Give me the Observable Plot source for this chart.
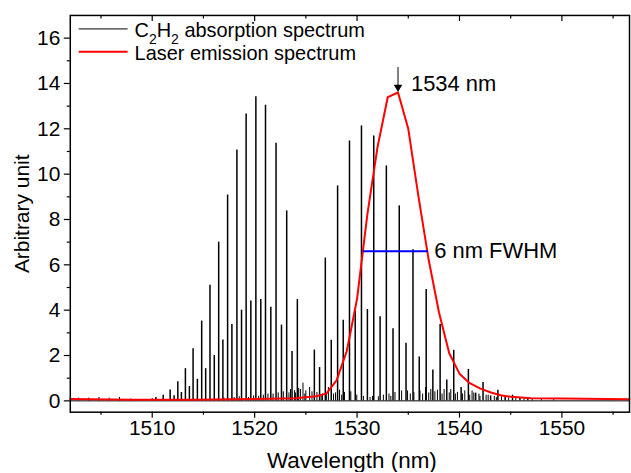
<!DOCTYPE html>
<html>
<head>
<meta charset="utf-8">
<script src="https://cdn.jsdelivr.net/npm/d3@7"></script>
<script src="https://cdn.jsdelivr.net/npm/@observablehq/plot@0.6"></script>
<style>
  html, body { margin: 0; padding: 0; background: #fff; overflow: hidden; }
  svg { display: block; }
</style>
</head>
<body>
<div id="chart"></div>
<script>
// ---- Data ----
const xDomain = [1502, 1556.6];
const yDomain = [-0.5, 17];

// Main C2H2 absorption lines (wavelength nm, intensity)
const lineWavelength = [
  1510.36, 1511.07, 1511.75, 1512.14, 1512.5, 1512.85, 1513.24, 1513.63, 1513.99, 1514.41,
  1514.83, 1515.22, 1515.64, 1516.06, 1516.49, 1516.9, 1517.36, 1517.78, 1518.27, 1518.72,
  1519.17, 1519.63, 1520.12, 1520.6, 1521.06, 1521.58, 1522.09, 1522.62, 1523.13, 1523.65,
  1524.17,
  1525.83, 1526.34, 1526.9, 1527.48, 1528.1, 1528.65, 1529.26, 1529.82, 1530.43, 1531.01,
  1531.63, 1532.25, 1532.86, 1533.51, 1534.12, 1534.78, 1535.46, 1536.07, 1536.75, 1537.4,
  1538.11, 1538.76, 1539.44, 1540.16, 1540.87, 1541.58, 1542.3, 1543.04, 1543.75, 1544.46,
  1545.18, 1545.9, 1546.67
];
const lineIntensity = [
  0.15, 0.25, 0.48, 0.22, 0.84, 0.37, 1.42, 0.63, 2.30, 0.95,
  3.52, 1.42, 5.10, 2.00, 7.00, 2.68, 9.08, 3.37, 11.06, 4.00,
  12.65, 4.40, 13.41, 4.47, 13.04, 4.13, 11.36, 3.34, 8.38, 2.18,
  4.47,
  2.24, 1.47, 6.30, 2.67, 9.48, 3.56, 11.46, 3.96, 12.12, 4.03,
  11.68, 3.71, 10.36, 3.18, 8.60, 2.54, 6.67, 1.93, 4.91, 1.36,
  3.37, 0.92, 2.23, 0.59, 1.39, 0.34, 0.81, 0.22, 0.47, 0.15,
  0.25, 0.10, 0.15
];

// Weak (hot band) lines and noise
const weakWavelength = [
  1502.8, 1503.8, 1504.8, 1505.8, 1506.8, 1507.9, 1509.0, 1510.0,
  1517.0, 1518.0, 1518.5, 1519.4, 1519.9, 1520.4, 1520.85, 1521.3, 1521.8, 1522.3, 1522.8, 1523.35, 1523.5, 1523.9, 1524.3,
  1524.47, 1524.72, 1525.0, 1525.37, 1526.08, 1526.63, 1527.2, 1527.7, 1528.29, 1528.77,
  1529.39, 1529.97, 1530.62, 1531.27, 1532.08, 1532.57, 1533.12, 1533.7, 1534.35, 1534.93,
  1535.55, 1536.14, 1536.68, 1537.2, 1537.85, 1538.5, 1539.15, 1539.8, 1540.52, 1541.23,
  1541.9, 1542.6, 1543.4, 1544.1, 1544.8, 1545.5, 1546.3, 1547.1, 1548.0, 1549.2,
  1524.0, 1524.9, 1525.6, 1526.5, 1527.0, 1527.9, 1528.5, 1531.5, 1533.3, 1535.2, 1536.4,
  1537.0, 1537.6, 1538.3, 1539.0, 1539.6, 1540.3, 1541.0, 1541.4, 1542.0, 1542.8, 1543.6
];
const weakIntensity = [
  0.12, 0.12, 0.15, 0.12, 0.15, 0.08, 0.06, 0.10,
  0.12, 0.15, 0.18, 0.15, 0.22, 0.2, 0.25, 0.3, 0.3, 0.35, 0.4, 0.35, 0.5, 0.45, 0.55,
  0.50, 0.78, 0.44, 0.59, 0.37, 0.30, 0.59, 0.30, 0.47, 0.37,
  0.40, 0.25, 0.20, 0.15, 0.18, 0.25, 0.30, 0.37, 0.44, 0.44,
  0.37, 0.44, 0.59, 0.50, 0.47, 0.50, 0.50, 0.37, 0.44, 0.44,
  0.30, 0.25, 0.20, 0.18, 0.12, 0.10, 0.10, 0.08, 0.07, 0.06,
  0.35, 0.3, 0.4, 0.25, 0.3, 0.35, 0.25, 0.2, 0.2, 0.3, 0.3,
  0.35, 0.4, 0.3, 0.35, 0.3, 0.3, 0.25, 0.35, 0.2, 0.25, 0.15
];

// Laser emission spectrum
const laserWavelength = [1502, 1508, 1514, 1520, 1524, 1526, 1527, 1528, 1529, 1530, 1531, 1532, 1533, 1534,
  1535, 1536, 1537, 1538, 1539, 1540, 1541, 1542, 1543, 1544, 1545, 1547, 1550, 1556.6];
const laserIntensity = [0.08, 0.05, 0.05, 0.08, 0.12, 0.2, 0.32, 0.9, 2.2, 4.5, 8.2, 11.2, 13.4, 13.6,
  12.0, 9.0, 6.2, 3.9, 2.1, 1.2, 0.78, 0.55, 0.38, 0.25, 0.18, 0.12, 0.1, 0.07];

// Annotations
const peakWavelength = 1534;
const peakArrowTop = 14.7;
const peakArrowTip = 13.75;
const fwhmStart = 1530.6;
const fwhmEnd = 1536.95;
const fwhmLevel = 6.6;

// Ticks
const xTicks = [1510, 1520, 1530, 1540, 1550];
const xMinorTicks = [1505, 1515, 1525, 1535, 1545, 1555];
const yTicks = [0, 2, 4, 6, 8, 10, 12, 14, 16];
const yMinorTicks = [1, 3, 5, 7, 9, 11, 13, 15];

// ---- Build tables ----
const lines = lineWavelength.map((w, i) => ({w, v: lineIntensity[i]}));
const weak = weakWavelength.map((w, i) => ({w, v: weakIntensity[i]}));
const laser = laserWavelength.map((w, i) => ({w, v: laserIntensity[i]}));

const FONT = "Liberation Sans, Arial, Helvetica, sans-serif";
const fmt = d => String(d);

const chart = Plot.plot({
  width: 633,
  height: 473,
  marginLeft: 70,
  marginRight: 2,
  marginTop: 15,
  marginBottom: 60,
  style: {fontFamily: FONT, fontSize: "21px", background: "white", color: "black", overflow: "visible"},
  x: {domain: xDomain, label: null},
  y: {domain: yDomain, label: null},
  marks: [
    // absorption baseline
    Plot.ruleY([0], {stroke: "black", strokeWidth: 1}),
    Plot.ruleX(weak, {x: "w", y1: 0, y2: "v", stroke: "black", strokeWidth: 1}),
    Plot.ruleX(lines, {x: "w", y1: 0, y2: "v", stroke: "black", strokeWidth: 1.5}),
    // laser
    Plot.line(laser, {x: "w", y: "v", stroke: "#ff0000", strokeWidth: 2}),
    // FWHM
    Plot.ruleY([fwhmLevel], {x1: fwhmStart, x2: fwhmEnd, stroke: "#0000ff", strokeWidth: 2}),
    Plot.text(["6 nm FWHM"], {x: fwhmEnd, y: fwhmLevel, dx: 6, textAnchor: "start", lineAnchor: "middle", fontSize: 22, fill: "black"}),
    // peak arrow
    Plot.ruleX([peakWavelength], {y1: peakArrowTop, y2: peakArrowTip, stroke: "black", strokeWidth: 1}),
    Plot.dot([peakWavelength], {x: d => d, y: peakArrowTip, symbol: "triangle", rotate: 180, r: 3.2, fill: "black", stroke: "none", dy: -2}),
    Plot.text(["1534 nm"], {x: peakWavelength, y: peakArrowTop, dx: 13, dy: 16, textAnchor: "start", lineAnchor: "middle", fontSize: 22, fill: "black"}),
    // frame
    Plot.frame({stroke: "black", strokeWidth: 1.5}),
    // axes
    Plot.axisY(yTicks, {tickSize: 6, tickPadding: 4, fontSize: 21, tickFormat: fmt, label: null, strokeWidth: 1.2}),
    Plot.axisY(yMinorTicks, {tickSize: 3, tickFormat: () => "", label: null, strokeWidth: 1.2}),
    Plot.axisX(xTicks, {tickSize: 6, tickPadding: 2, fontSize: 21, tickFormat: fmt, label: null, strokeWidth: 1.2}),
    Plot.axisX(xMinorTicks, {tickSize: 3, tickFormat: () => "", label: null, strokeWidth: 1.2}),
    Plot.axisX(xTicks, {anchor: "top", tickSize: -5, tickFormat: () => "", label: null, strokeWidth: 1.2}),
    Plot.axisX(xMinorTicks, {anchor: "top", tickSize: -2.5, tickFormat: () => "", label: null, strokeWidth: 1.2}),
    // axis titles
    Plot.text(["Arbitrary unit"], {frameAnchor: "left", rotate: -90, dx: -48, textAnchor: "middle", lineAnchor: "middle", fontSize: 21, fill: "black"}),
    Plot.text(["Wavelength (nm)"], {frameAnchor: "bottom", dx: 2, dy: 49, textAnchor: "middle", lineAnchor: "middle", fontSize: 22.5, fill: "black"})
  ]
});

document.getElementById("chart").appendChild(chart);

// ---- Legend (inside the plot, top-left) ----
const svg = d3.select(chart);
const lg = svg.append("g").attr("font-family", FONT).attr("font-size", 20)
  .attr("fill", "black").attr("text-anchor", "start");
lg.append("line").attr("x1", 79).attr("x2", 128).attr("y1", 29).attr("y2", 29)
  .attr("stroke", "black").attr("stroke-width", 1);
lg.append("line").attr("x1", 79).attr("x2", 128).attr("y1", 52).attr("y2", 52)
  .attr("stroke", "#ff0000").attr("stroke-width", 2);
const t1 = lg.append("text").attr("x", 135).attr("y", 37);
t1.append("tspan").text("C");
t1.append("tspan").attr("dy", 7).attr("font-size", 14).text("2");
t1.append("tspan").attr("dy", -7).text("H");
t1.append("tspan").attr("dy", 7).attr("font-size", 14).text("2");
t1.append("tspan").attr("dy", -7).text(" absorption spectrum");
lg.append("text").attr("x", 135).attr("y", 60).text("Laser emission spectrum");
</script>
</body>
</html>
